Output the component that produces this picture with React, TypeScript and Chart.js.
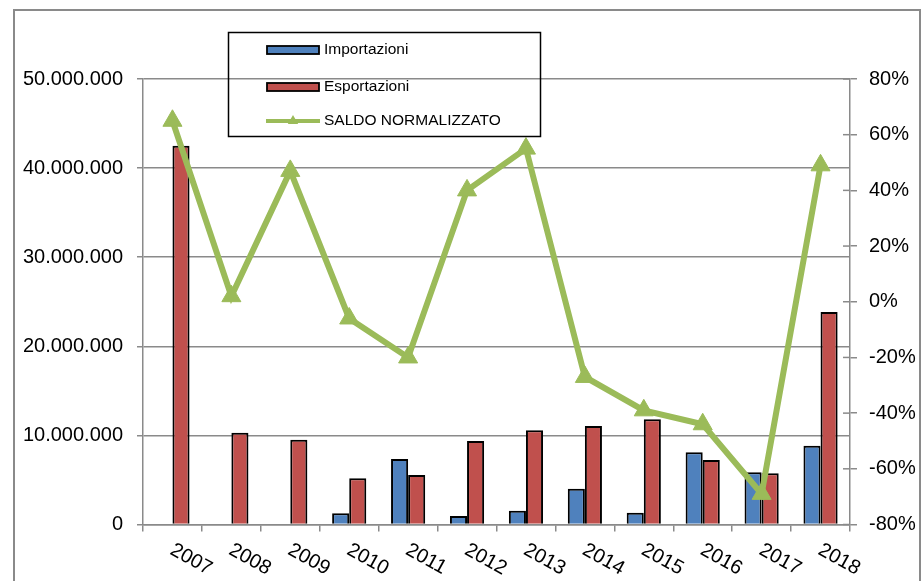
import React, { useEffect, useRef } from "react";
import { Chart, registerables } from "chart.js";

Chart.register(...registerables);

const years = ["2007", "2008", "2009", "2010", "2011", "2012", "2013", "2014", "2015", "2016", "2017", "2018"];
const importazioni = [null, null, null, 1260000, 7350000, 950000, 1550000, 4000000, 1330000, 8100000, 5860000, 8850000];
const esportazioni = [42500000, 10300000, 9500000, 5200000, 5550000, 9370000, 10570000, 11050000, 11800000, 7240000, 5750000, 23850000];
const saldo = [65, 2, 47, -6, -20, 40, 55, -27, -39, -44, -69, 49];
const seriesNames = ["Importazioni", "Esportazioni", "SALDO NORMALIZZATO"];
const leftTickLabels = ["0", "10.000.000", "20.000.000", "30.000.000", "40.000.000", "50.000.000"];
const rightTickLabels = ["-80%", "-60%", "-40%", "-20%", "0%", "20%", "40%", "60%", "80%"];

const FONT = "'Liberation Sans', Arial, sans-serif";
const GRID = "#8a8a8a";
const BLUE = "#4F81BD";
const RED = "#C0504D";
const GREEN = "#9BBB59";

const decorPlugin = {
  id: "decor",
  beforeDraw(chart: any) {
    const ctx = chart.ctx;
    ctx.save();
    ctx.strokeStyle = GRID;
    ctx.lineWidth = 2;
    ctx.strokeRect(14, 10, 906, 620);
    ctx.restore();
  },
  afterDraw(chart: any) {
    const ctx = chart.ctx;
    const x = chart.scales.x;
    const y1 = chart.scales.y1;
    ctx.save();
    // inner ticks on right axis
    ctx.strokeStyle = GRID;
    ctx.lineWidth = 1.5;
    y1.ticks.forEach((t: any) => {
      const py = y1.getPixelForValue(t.value);
      ctx.beginPath();
      ctx.moveTo(y1.left - 7, py);
      ctx.lineTo(y1.left, py);
      ctx.stroke();
    });
    // rotated category labels
    ctx.fillStyle = "#000";
    ctx.font = `20px ${FONT}`;
    ctx.textAlign = "left";
    ctx.textBaseline = "top";
    years.forEach((lab, i) => {
      const px = x.getPixelForValue(i);
      ctx.save();
      ctx.translate(px + 4, 540);
      ctx.rotate((29 * Math.PI) / 180);
      ctx.fillText(lab, 0, 0);
      ctx.restore();
    });
    // legend
    ctx.strokeStyle = "#000";
    ctx.lineWidth = 1.5;
    ctx.strokeRect(228.5, 32.5, 312, 104);
    ctx.font = `15.5px ${FONT}`;
    ctx.textBaseline = "middle";
    ctx.textAlign = "left";
    const items = [
      { y: 50, color: BLUE },
      { y: 87, color: RED },
    ];
    items.forEach((it, i) => {
      ctx.fillStyle = it.color;
      ctx.fillRect(267, it.y - 4, 52, 8);
      ctx.strokeStyle = "#000";
      ctx.lineWidth = 1.8;
      ctx.strokeRect(267, it.y - 4, 52, 8);
      ctx.fillStyle = "#000";
      ctx.fillText(seriesNames[i], 324, it.y);
    });
    const ly = 121;
    ctx.strokeStyle = GREEN;
    ctx.lineWidth = 4;
    ctx.beginPath();
    ctx.moveTo(266, ly);
    ctx.lineTo(320, ly);
    ctx.stroke();
    ctx.fillStyle = GREEN;
    ctx.beginPath();
    const r = 6;
    ctx.moveTo(293, ly - r);
    ctx.lineTo(293 + r * 0.866, ly + r / 2);
    ctx.lineTo(293 - r * 0.866, ly + r / 2);
    ctx.closePath();
    ctx.fill();
    ctx.fillStyle = "#000";
    ctx.fillText(seriesNames[2], 324, ly);
    ctx.restore();
  },
};

export default function App() {
  const ref = useRef<HTMLCanvasElement | null>(null);
  useEffect(() => {
    if (!ref.current) return;
    const chart = new Chart(ref.current, {
      type: "bar",
      data: {
        labels: years,
        datasets: [
          {
            type: "bar",
            label: seriesNames[0],
            data: importazioni as any,
            backgroundColor: BLUE,
            borderColor: "#000",
            borderWidth: 2,
            yAxisID: "y",
            order: 1,
            categoryPercentage: 0.58,
            barPercentage: 1,
          },
          {
            type: "bar",
            label: seriesNames[1],
            data: esportazioni,
            backgroundColor: RED,
            borderColor: "#000",
            borderWidth: 2,
            yAxisID: "y",
            order: 1,
            categoryPercentage: 0.58,
            barPercentage: 1,
          },
          {
            type: "line",
            label: seriesNames[2],
            data: saldo,
            borderColor: GREEN,
            backgroundColor: GREEN,
            borderWidth: 6,
            pointStyle: "triangle",
            pointRadius: 11,
            pointBackgroundColor: GREEN,
            pointBorderColor: GREEN,
            pointBorderWidth: 1,
            tension: 0,
            yAxisID: "y1",
            order: 0,
          } as any,
        ],
      },
      options: {
        animation: false,
        responsive: true,
        maintainAspectRatio: false,
        devicePixelRatio: 1,
        layout: { padding: { top: 79, left: 0, right: 0, bottom: 0 } },
        plugins: { legend: { display: false }, tooltip: { enabled: false } },
        scales: {
          x: {
            offset: true,
            grid: {
              display: true,
              drawOnChartArea: false,
              drawTicks: true,
              tickLength: 7,
              color: GRID,
              lineWidth: 1.5,
              offset: true,
            },
            border: { display: true, color: GRID, width: 1.5 },
            ticks: { display: false },
            afterFit: (s: any) => {
              s.height = 56.5;
            },
          },
          y: {
            position: "left",
            min: 0,
            max: 50000000,
            ticks: {
              stepSize: 10000000,
              color: "#000",
              padding: 14,
              font: { size: 20, family: FONT },
              callback: (_v: any, i: number) => leftTickLabels[i],
            },
            grid: { color: GRID, lineWidth: 1.5, tickLength: 6, drawTicks: true },
            border: { display: true, color: GRID, width: 1.5 },
            afterFit: (s: any) => {
              s.width = 143;
            },
          },
          y1: {
            position: "right",
            min: -80,
            max: 80,
            ticks: {
              stepSize: 20,
              color: "#000",
              padding: 12,
              font: { size: 20, family: FONT },
              callback: (_v: any, i: number) => rightTickLabels[i],
            },
            grid: { drawOnChartArea: false, color: GRID, lineWidth: 1.5, tickLength: 7, drawTicks: true },
            border: { display: true, color: GRID, width: 1.5 },
            afterFit: (s: any) => {
              s.width = 72;
            },
          },
        },
      },
      plugins: [decorPlugin],
    });
    return () => chart.destroy();
  }, []);
  return (
    <div style={{ position: "fixed", left: 0, top: 0, width: 922, height: 581, background: "#fff" }}>
      <canvas ref={ref} />
    </div>
  );
}
